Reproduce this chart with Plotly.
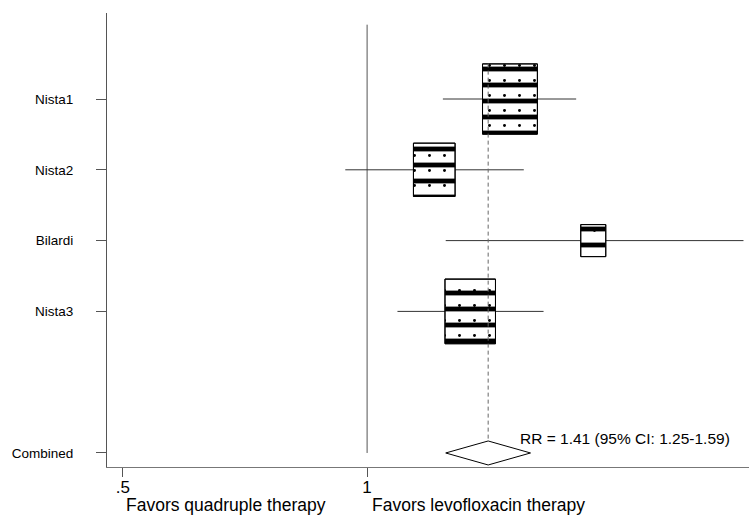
import numpy as np
import plotly.graph_objects as go

# Study-level relative risks with 95% confidence intervals
studies = ["Nista1", "Nista2", "Bilardi", "Nista3"]
rr = [1.50, 1.21, 1.90, 1.34]
ci_low = [1.24, 0.94, 1.25, 1.09]
ci_high = [1.81, 1.56, 2.91, 1.65]
weight_pct = [38.0, 21.9, 7.9, 32.2]

# Pooled estimate
pooled_label = "Combined"
pooled_rr = 1.41
pooled_low = 1.25
pooled_high = 1.59

x_tick_vals = [0.5, 1]
x_tick_text = [".5", "1"]

# Layout geometry
W, H = 749, 515
ML, MR, MT, MB = 107, 0, 13, 48
X_MIN, X_MAX = 0.478, 2.956
Y_TOP, Y_BOT = -0.215, 6.198
FONT = "Liberation Sans, Arial, sans-serif"

plot_w = W - ML - MR
plot_h = H - MT - MB
px_per_ln = plot_w / np.log(X_MAX / X_MIN)
px_per_y = plot_h / (Y_BOT - Y_TOP)

rows = list(range(1, len(studies) + 1))
pooled_row = len(studies) + 2

fig = go.Figure()

# Null line at RR = 1
fig.add_trace(go.Scatter(x=[1, 1], y=[-0.05, pooled_row], mode="lines",
                         line=dict(color="#555555", width=1), hoverinfo="skip"))

# Confidence interval lines
for lo, hi, r in zip(ci_low, ci_high, rows):
    fig.add_trace(go.Scatter(x=[lo, hi], y=[r, r], mode="lines",
                             line=dict(color="#333333", width=1), hoverinfo="skip"))

# Weighted boxes (area proportional to study weight)
for est, w, r in zip(rr, weight_pct, rows):
    side_px = 8.9 * np.sqrt(w)
    half_ln = side_px / 2 / px_per_ln
    half_y = 1.28 * side_px / 2 / px_per_y
    x0, x1 = est * np.exp(-half_ln), est * np.exp(half_ln)
    y0, y1 = r - half_y, r + half_y
    bx = [x0, x1, x1, x0, x0]
    by = [y0, y0, y1, y1, y0]
    fig.add_trace(go.Scatter(x=bx, y=by, mode="lines", fill="toself",
                             fillcolor="white",
                             fillpattern=dict(shape="-", size=16, solidity=0.3,
                                              fgcolor="black", fgopacity=1,
                                              bgcolor="white"),
                             line=dict(color="black", width=1), hoverinfo="skip"))
    fig.add_trace(go.Scatter(x=bx, y=by, mode="lines", fill="toself",
                             fillcolor="rgba(0,0,0,0)",
                             fillpattern=dict(shape=".", size=15, solidity=0.03,
                                              fgcolor="black", fgopacity=1,
                                              bgcolor="rgba(0,0,0,0)"),
                             line=dict(color="black", width=1), hoverinfo="skip"))

# Pooled diamond
d_half = 12 / px_per_y
fig.add_trace(go.Scatter(
    x=[pooled_low, pooled_rr, pooled_high, pooled_rr, pooled_low],
    y=[pooled_row, pooled_row - d_half, pooled_row, pooled_row + d_half, pooled_row],
    mode="lines", line=dict(color="black", width=1), hoverinfo="skip"))

# Dashed line through the pooled estimate
fig.add_trace(go.Scatter(x=[pooled_rr, pooled_rr], y=[0.5, pooled_row - d_half],
                         mode="lines",
                         line=dict(color="#666666", width=1, dash="4px,3px"),
                         hoverinfo="skip"))

fig.add_annotation(x=np.log10(pooled_high) - 0.015, y=pooled_row - 0.2,
                   xref="x", yref="y", xanchor="left", yanchor="middle",
                   text=f"RR = {pooled_rr:.2f} (95% CI: {pooled_low:.2f}-{pooled_high:.2f})",
                   showarrow=False, font=dict(family=FONT, size=15.5, color="black"))

fig.add_annotation(x=np.log10(0.5), y=-0.084, xref="x", yref="paper",
                   xanchor="left", yanchor="middle", xshift=1,
                   text="Favors quadruple therapy", showarrow=False,
                   font=dict(family=FONT, size=17.5, color="black"))
fig.add_annotation(x=np.log10(1), y=-0.084, xref="x", yref="paper",
                   xanchor="left", yanchor="middle", xshift=3,
                   text="Favors levofloxacin therapy", showarrow=False,
                   font=dict(family=FONT, size=17.5, color="black"))

fig.update_layout(
    width=W, height=H,
    margin=dict(l=ML, r=MR, t=MT, b=MB),
    paper_bgcolor="white", plot_bgcolor="white",
    showlegend=False,
    font=dict(family=FONT, color="black"),
    xaxis=dict(type="log", range=[np.log10(X_MIN), np.log10(X_MAX)],
               tickvals=x_tick_vals, ticktext=x_tick_text,
               ticks="outside", ticklen=9, tickcolor="#555555",
               ticklabelstandoff=-4,
               showline=True, linecolor="#777777", linewidth=1,
               showgrid=False, zeroline=False,
               tickfont=dict(size=17, family=FONT, color="black")),
    yaxis=dict(range=[Y_BOT, Y_TOP],
               tickvals=rows + [pooled_row], ticktext=studies + [pooled_label],
               ticks="outside", ticklen=10, tickcolor="#555555",
               ticklabelstandoff=20,
               showline=True, linecolor="#555555", linewidth=1,
               showgrid=False, zeroline=False,
               tickfont=dict(size=13.5, family=FONT, color="black")),
)

fig.write_html("out.html")
